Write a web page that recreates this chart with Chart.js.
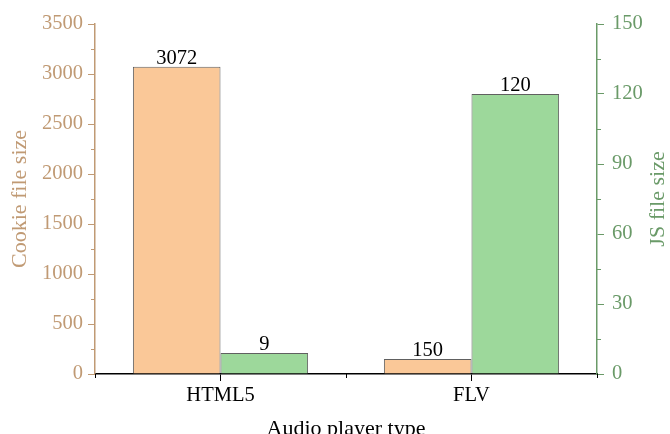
<!DOCTYPE html>
<html>
<head>
<meta charset="utf-8">
<script src="https://cdn.jsdelivr.net/npm/chart.js@4"></script>
<style>
  html, body { margin: 0; padding: 0; background: #fff; }
  #wrap { width: 670px; height: 434px; }
</style>
</head>
<body>
<div id="wrap"><canvas id="chart" width="670" height="434"></canvas></div>
<script>
const categories = ['HTML5', 'FLV'];
const cookieSizes = [3072, 150];
const jsSizes = [9, 120];
const cookieTicks = [0, 500, 1000, 1500, 2000, 2500, 3000, 3500];
const jsTicks = [0, 30, 60, 90, 120, 150];

const tan = '#c09a74';
const green = '#6a9a68';
const serif = '"Liberation Serif", "DejaVu Serif", serif';

// short minor ticks between the labelled ones, and between categories
const minorTicks = {
  id: 'minorTicks',
  afterDraw(chart) {
    const ctx = chart.ctx;
    const { y, y1, x } = chart.scales;
    ctx.save();
    ctx.lineWidth = 1;
    ctx.strokeStyle = tan;
    for (let i = 0; i < cookieTicks.length - 1; i++) {
      const py = Math.round(y.getPixelForValue((cookieTicks[i] + cookieTicks[i + 1]) / 2)) + 0.5;
      ctx.beginPath(); ctx.moveTo(y.right - 4, py); ctx.lineTo(y.right, py); ctx.stroke();
    }
    ctx.strokeStyle = green;
    for (let i = 0; i < jsTicks.length - 1; i++) {
      const py = Math.round(y1.getPixelForValue((jsTicks[i] + jsTicks[i + 1]) / 2)) + 0.5;
      ctx.beginPath(); ctx.moveTo(y1.left, py); ctx.lineTo(y1.left + 4, py); ctx.stroke();
    }
    ctx.strokeStyle = '#000';
    for (let i = 0; i <= categories.length; i++) {
      const px = Math.round(x.getPixelForValue(i - 0.5)) + 0.5;
      ctx.beginPath(); ctx.moveTo(px, x.top); ctx.lineTo(px, x.top + 4); ctx.stroke();
    }
    // right axis title reads bottom to top, like the left one
    const area = chart.chartArea;
    ctx.translate(y1.right - 12, (area.top + area.bottom) / 2);
    ctx.rotate(-Math.PI / 2);
    ctx.font = '22px ' + serif;
    ctx.fillStyle = green;
    ctx.textAlign = 'center';
    ctx.textBaseline = 'middle';
    ctx.fillText('JS file size', 0, 0);
    ctx.restore();
  }
};

// numbers above the bars
const barLabels = {
  id: 'barLabels',
  afterDatasetsDraw(chart) {
    const ctx = chart.ctx;
    ctx.save();
    ctx.font = '20.5px ' + serif;
    ctx.fillStyle = '#000';
    ctx.textAlign = 'center';
    ctx.textBaseline = 'alphabetic';
    chart.data.datasets.forEach((ds, di) => {
      chart.getDatasetMeta(di).data.forEach((bar, i) => {
        ctx.fillText(String(ds.data[i]), bar.x, bar.y - 3);
      });
    });
    ctx.restore();
  }
};

new Chart(document.getElementById('chart'), {
  type: 'bar',
  data: {
    labels: categories,
    datasets: [
      {
        label: 'Cookie file size',
        data: cookieSizes,
        yAxisID: 'y',
        backgroundColor: '#fac898',
        borderColor: '#606060',
        borderWidth: 1,
        borderSkipped: 'bottom'
      },
      {
        label: 'JS file size',
        data: jsSizes,
        yAxisID: 'y1',
        backgroundColor: '#9dd89b',
        borderColor: '#606060',
        borderWidth: 1,
        borderSkipped: 'bottom'
      }
    ]
  },
  options: {
    responsive: false,
    animation: false,
    layout: { padding: { top: 24, left: 0, right: 0, bottom: 0 } },
    categoryPercentage: 0.698,
    barPercentage: 1,
    plugins: {
      legend: { display: false },
      tooltip: { enabled: false }
    },
    scales: {
      x: {
        offset: true,
        afterFit: s => { s.height = 60; },
        grid: { display: true, offset: false, drawOnChartArea: false, tickLength: 7, color: '#000' },
        border: { color: '#000', width: 1.5 },
        ticks: { color: '#000', font: { family: serif, size: 20.5 }, padding: 2 },
        title: { display: true, text: 'Audio player type', color: '#000', font: { family: serif, size: 22 }, padding: { top: 0, bottom: -8 } }
      },
      y: {
        position: 'left',
        min: 0,
        max: 3500,
        afterBuildTicks: s => { s.ticks = cookieTicks.map(v => ({ value: v })); },
        afterFit: s => { s.width = 95; },
        grid: { display: true, drawOnChartArea: false, tickLength: 7, color: tan },
        border: { color: tan, width: 1.5 },
        ticks: { color: tan, font: { family: serif, size: 20.5 }, padding: 5, callback: v => String(v) },
        title: { display: true, text: 'Cookie file size', color: tan, font: { family: serif, size: 22 }, padding: { top: 7, bottom: 0 } }
      },
      y1: {
        position: 'right',
        min: 0,
        max: 150,
        afterBuildTicks: s => { s.ticks = jsTicks.map(v => ({ value: v })); },
        afterFit: s => { s.width = 73; },
        grid: { display: true, drawOnChartArea: false, tickLength: 7, color: green },
        border: { color: green, width: 1.5 },
        ticks: { color: green, font: { family: serif, size: 20.5 }, padding: 8, callback: v => String(v) },
        title: { display: false }
      }
    }
  },
  plugins: [minorTicks, barLabels]
});
</script>
</body>
</html>
